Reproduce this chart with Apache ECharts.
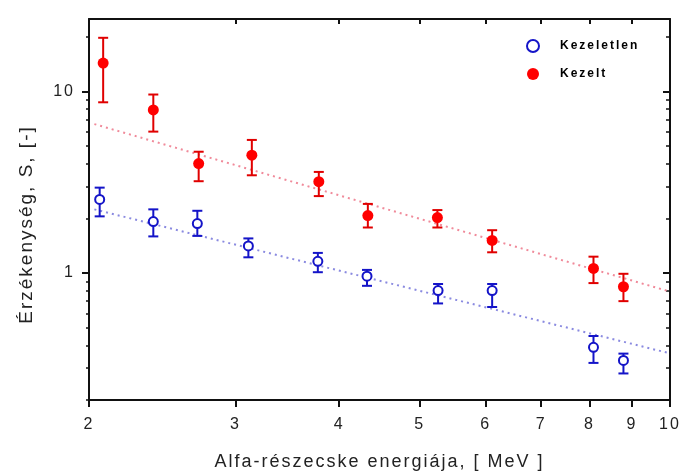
<!DOCTYPE html>
<html>
<head>
<meta charset="utf-8">
<script src="https://cdn.jsdelivr.net/npm/echarts@6/dist/echarts.min.js"></script>
<style>html,body{margin:0;padding:0;background:#fff}#c{width:679px;height:472px}</style>
</head>
<body>
<div id="c"></div>
<script>
// Kezelt (treated) – red filled
const kezeltE  = [2.08, 2.39, 2.71, 3.14, 3.78, 4.33, 5.25, 6.11, 8.09, 8.79];
const kezeltS  = [14.3, 7.9, 4.0, 4.45, 3.18, 2.07, 2.02, 1.51, 1.06, 0.84];
const kezeltLo = [8.7, 6.0, 3.2, 3.45, 2.65, 1.78, 1.78, 1.3, 0.88, 0.70];
const kezeltHi = [19.7, 9.6, 4.65, 5.4, 3.6, 2.4, 2.22, 1.72, 1.23, 0.99];
// Kezeletlen (untreated) – blue open
const kezeletlenE  = [2.06, 2.39, 2.70, 3.11, 3.77, 4.32, 5.26, 6.11, 8.09, 8.79];
const kezeletlenS  = [2.54, 1.92, 1.87, 1.41, 1.16, 0.96, 0.80, 0.80, 0.39, 0.33];
const kezeletlenLo = [2.05, 1.59, 1.6, 1.22, 1.01, 0.85, 0.68, 0.65, 0.32, 0.28];
const kezeletlenHi = [2.95, 2.24, 2.2, 1.55, 1.29, 1.04, 0.87, 0.87, 0.45, 0.36];
// dotted fit lines (end points)
const fitKezeltE = [2.03, 10];
const fitKezeltS = [6.6, 0.79];
const fitKezeletlenE = [2.03, 10];
const fitKezeletlenS = [2.24, 0.361];
// ticks
const xTicks = [2, 3, 4, 5, 6, 7, 8, 9, 10];
const yMajor = [1, 10];
const yMinor = [0.2, 0.3, 0.4, 0.5, 0.6, 0.7, 0.8, 0.9, 2, 3, 4, 5, 6, 7, 8, 9, 20];

// wide, letter-spaced lettering as in the reference
(function () {
  const P = CanvasRenderingContext2D.prototype;
  const f = P.fillText, m = P.measureText;
  P.fillText = function () { try { this.letterSpacing = '2px'; } catch (e) {} return f.apply(this, arguments); };
  P.measureText = function () { try { this.letterSpacing = '2px'; } catch (e) {} return m.apply(this, arguments); };
})();

const zip = (a, b) => a.map((v, i) => [v, b[i]]);
const zip3 = (a, b, c) => a.map((v, i) => [v, b[i], c[i]]);

function errBar(color) {
  return function (params, api) {
    const x = api.value(0);
    const lo = api.coord([x, api.value(1)]);
    const hi = api.coord([x, api.value(2)]);
    const w = 5;
    const st = { stroke: color, lineWidth: 2 };
    return {
      type: 'group',
      children: [
        { type: 'line', shape: { x1: lo[0], y1: lo[1], x2: hi[0], y2: hi[1] }, style: st },
        { type: 'line', shape: { x1: lo[0] - w, y1: lo[1], x2: lo[0] + w, y2: lo[1] }, style: st },
        { type: 'line', shape: { x1: hi[0] - w, y1: hi[1], x2: hi[0] + w, y2: hi[1] }, style: st }
      ]
    };
  };
}

const font = 'Liberation Sans, Arial, sans-serif';
const chart = echarts.init(document.getElementById('c'), null, { renderer: 'canvas' });
const lineStyle = { color: '#111', width: 2 };

chart.setOption({
  animation: false,
  backgroundColor: '#fff',
  grid: { left: 89, right: 9, top: 19, bottom: 72, containLabel: false, outerBoundsMode: 'none' },
  legend: {
    data: ['Kezeletlen', 'Kezelt'],
    orient: 'vertical',
    left: 521, top: 34,
    itemWidth: 44, itemHeight: 12, itemGap: 14,
    textStyle: { fontFamily: font, fontSize: 12, fontWeight: 'bold', color: '#000' }
  },
  xAxis: [
    {
      type: 'log', logBase: 10, min: 2, max: 10, position: 'bottom',
      name: 'Alfa-részecske energiája, [ MeV ]', nameLocation: 'middle', nameGap: 52,
      nameTextStyle: { fontFamily: font, fontSize: 18, color: '#222' },
      axisLine: { show: true, onZero: false, lineStyle },
      axisTick: { show: true, inside: false, length: 7, customValues: xTicks, lineStyle: { color: '#111', width: 2 } },
      axisLabel: { show: true, customValues: xTicks, margin: 16, fontFamily: font, fontSize: 16, color: '#222', formatter: v => String(Math.round(v)) },
      splitLine: { show: false }, minorTick: { show: false }
    },
    {
      type: 'log', logBase: 10, min: 2, max: 10, position: 'top',
      axisLine: { show: true, onZero: false, lineStyle },
      axisTick: { show: true, inside: true, length: 5, customValues: xTicks, lineStyle: { color: '#111', width: 2 } },
      axisLabel: { show: false }, splitLine: { show: false }
    }
  ],
  yAxis: [
    {
      type: 'log', logBase: 10, min: 0.2, max: 25, position: 'left',
      name: 'Érzékenység, S, [-]', nameLocation: 'middle', nameGap: 52, nameRotate: 90,
      nameTextStyle: { fontFamily: font, fontSize: 19, color: '#222', padding: [0, 30, 0, 0] },
      axisLine: { show: true, onZero: false, lineStyle },
      axisTick: { show: true, inside: false, length: 7, customValues: yMajor, lineStyle: { color: '#111', width: 2 } },
      axisLabel: { show: true, customValues: yMajor, margin: 14, fontFamily: font, fontSize: 16, color: '#222', formatter: v => String(Math.round(v)) },
      splitLine: { show: false }
    },
    {
      type: 'log', logBase: 10, min: 0.2, max: 25, position: 'right',
      axisLine: { show: true, onZero: false, lineStyle },
      axisTick: { show: true, inside: true, length: 7, customValues: yMajor, lineStyle: { color: '#111', width: 2 } },
      axisLabel: { show: false }, splitLine: { show: false }
    },
    {
      type: 'log', logBase: 10, min: 0.2, max: 25, position: 'left',
      axisLine: { show: false },
      axisTick: { show: true, inside: false, length: 3, customValues: yMinor, lineStyle: { color: '#111', width: 1.5 } },
      axisLabel: { show: false }, splitLine: { show: false }
    },
    {
      type: 'log', logBase: 10, min: 0.2, max: 25, position: 'right',
      axisLine: { show: false },
      axisTick: { show: true, inside: true, length: 4, customValues: yMinor, lineStyle: { color: '#111', width: 1.5 } },
      axisLabel: { show: false }, splitLine: { show: false }
    }
  ],
  series: [
    {
      name: 'fitKezelt', type: 'line', data: zip(fitKezeltE, fitKezeltS), showSymbol: false, silent: true,
      lineStyle: { color: '#f08a9a', width: 2, type: [2, 4] }, z: 1
    },
    {
      name: 'fitKezeletlen', type: 'line', data: zip(fitKezeletlenE, fitKezeletlenS), showSymbol: false, silent: true,
      lineStyle: { color: '#8a8ae0', width: 2, type: [2, 4] }, z: 1
    },
    {
      name: 'errKezelt', type: 'custom', renderItem: errBar('#e00000'),
      encode: { x: 0, y: [1, 2] }, data: zip3(kezeltE, kezeltLo, kezeltHi), z: 2
    },
    {
      name: 'errKezeletlen', type: 'custom', renderItem: errBar('#1414c8'),
      encode: { x: 0, y: [1, 2] }, data: zip3(kezeletlenE, kezeletlenLo, kezeletlenHi), z: 2
    },
    {
      name: 'Kezeletlen', type: 'scatter', data: zip(kezeletlenE, kezeletlenS),
      symbol: 'circle', symbolSize: 9,
      itemStyle: { color: '#fff', borderColor: '#1414c8', borderWidth: 2, opacity: 1 }, z: 3
    },
    {
      name: 'Kezelt', type: 'scatter', data: zip(kezeltE, kezeltS),
      symbol: 'circle', symbolSize: 11,
      itemStyle: { color: '#ff0000', opacity: 1 }, z: 3
    }
  ]
});
</script>
</body>
</html>
